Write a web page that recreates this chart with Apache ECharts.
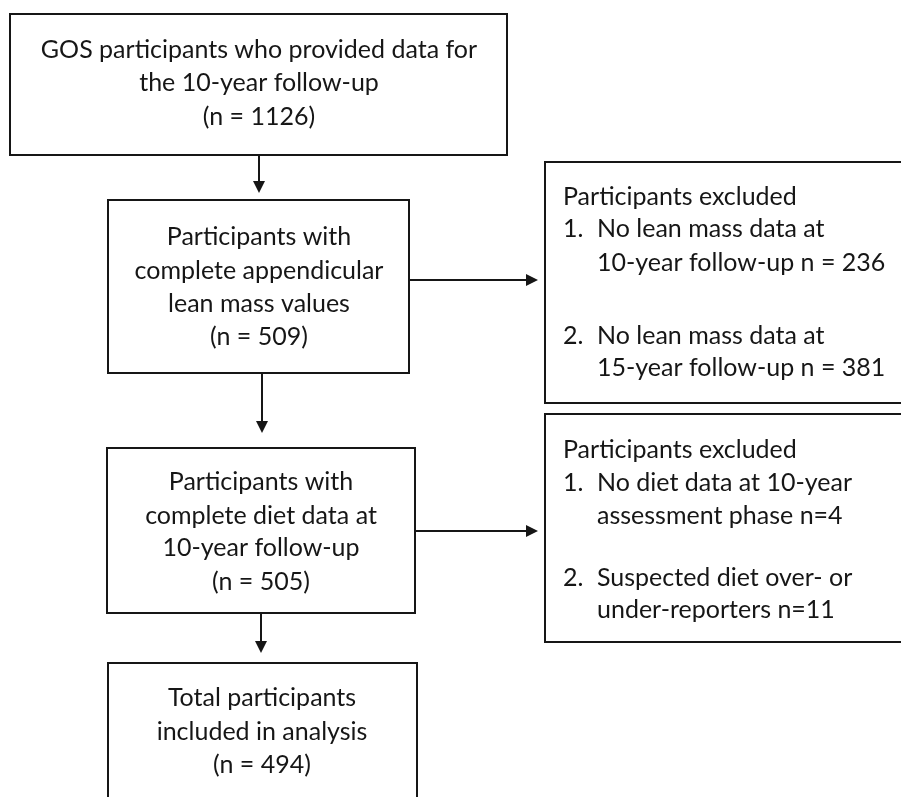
<!DOCTYPE html>
<html>
<head>
<meta charset="utf-8">
<script src="https://cdn.jsdelivr.net/npm/echarts@6/dist/echarts.min.js"></script>
<style>
  html,body{margin:0;padding:0;background:#fff;}
  #main{width:901px;height:797px;}
</style>
</head>
<body>
<div id="main"></div>
<script>
// flowchart contents
var mainSteps = [
    ['GOS participants who provided data for', 'the 10-year follow-up'],
    ['Participants with', 'complete appendicular', 'lean mass values'],
    ['Participants with', 'complete diet data at', '10-year follow-up'],
    ['Total participants', 'included in analysis']
];
var mainCounts = [1126, 509, 505, 494];
var excludedTitle = 'Participants excluded';
var excludedItems = [
    [['No lean mass data at', '10-year follow-up n = 236'], ['No lean mass data at', '15-year follow-up n = 381']],
    [['No diet data at 10-year', 'assessment phase n=4'], ['Suspected diet over- or', 'under-reporters n=11']]
];

// layout (pixels)
var mainBoxes = [
    {x: 10, y: 14, w: 497, h: 141, cx: 259, lines: [50, 83, 117]},
    {x: 108, y: 200, w: 301, h: 173, cx: 259, lines: [237, 271, 304, 337]},
    {x: 107, y: 448, w: 308, h: 165, cx: 261, lines: [482, 516, 548, 582]},
    {x: 108, y: 663, w: 309, h: 200, cx: 262, lines: [698, 732, 765]}
];
var sideBoxes = [
    {x: 545, y: 162, w: 420, h: 241, lines: [197, 229, 263, 336, 368]},
    {x: 545, y: 414, w: 420, h: 228, lines: [450, 483, 516, 578, 610]}
];
var downArrows = [
    {x: 259, y1: 155, y2: 193},
    {x: 262, y1: 373, y2: 433},
    {x: 261, y1: 613, y2: 653}
];
var sideArrows = [
    {y: 280, x1: 409, x2: 538},
    {y: 531, x1: 415, x2: 538}
];

var FONT = '25px Lato, "Open Sans", sans-serif';
var INK = '#161616';
var els = [];

function txt(s, x, y, align) {
    els.push({type: 'text', x: x, y: y, style: {text: s, font: FONT, fill: INK, align: align || 'center', verticalAlign: 'middle'}});
}
function box(b) {
    els.push({type: 'rect', shape: {x: b.x, y: b.y, width: b.w, height: b.h}, style: {fill: '#fff', stroke: INK, lineWidth: 2}});
}

mainBoxes.forEach(function(b, i){
    box(b);
    var lines = mainSteps[i].concat(['(n = ' + mainCounts[i] + ')']);
    lines.forEach(function(s, j){ txt(s, b.cx, b.lines[j]); });
});

sideBoxes.forEach(function(b, i){
    box(b);
    txt(excludedTitle, 563, b.lines[0], 'left');
    var k = 1;
    excludedItems[i].forEach(function(item, n){
        txt((n + 1) + '.', 563, b.lines[k], 'left');
        item.forEach(function(s){ txt(s, 597, b.lines[k], 'left'); k++; });
    });
});

downArrows.forEach(function(a){
    els.push({type: 'line', shape: {x1: a.x, y1: a.y1, x2: a.x, y2: a.y2 - 10}, style: {stroke: INK, lineWidth: 2}});
    els.push({type: 'polygon', shape: {points: [[a.x - 6, a.y2 - 12], [a.x + 6, a.y2 - 12], [a.x, a.y2]]}, style: {fill: INK}});
});
sideArrows.forEach(function(a){
    els.push({type: 'line', shape: {x1: a.x1, y1: a.y, x2: a.x2 - 10, y2: a.y}, style: {stroke: INK, lineWidth: 2}});
    els.push({type: 'polygon', shape: {points: [[a.x2 - 12, a.y - 6], [a.x2 - 12, a.y + 6], [a.x2, a.y]]}, style: {fill: INK}});
});

var chart = echarts.init(document.getElementById('main'));
chart.setOption({
    backgroundColor: '#fff',
    animation: false,
    graphic: {elements: els}
});
</script>
</body>
</html>
